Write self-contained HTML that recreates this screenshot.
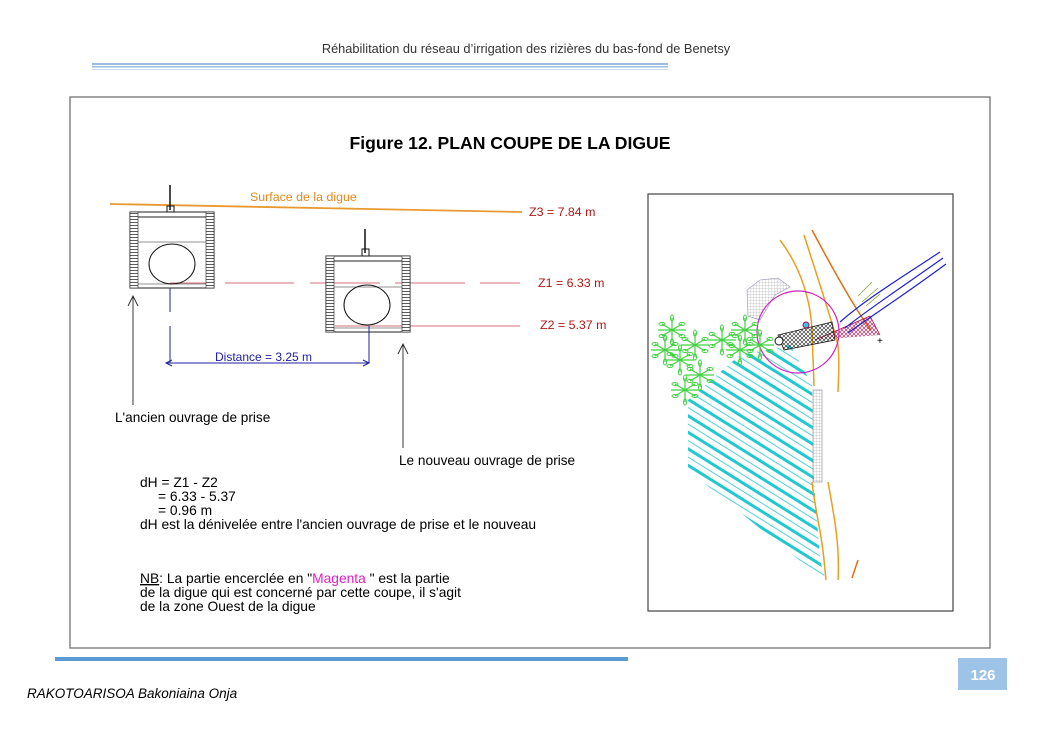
<!DOCTYPE html>
<html><head><meta charset="utf-8"><style>
body{margin:0;width:1053px;height:745px;background:#fff;overflow:hidden;font-family:"Liberation Sans",sans-serif}
</style></head><body>
<svg width="1053" height="745" viewBox="0 0 1053 745" xmlns="http://www.w3.org/2000/svg" font-family="Liberation Sans, sans-serif">
<defs>
<pattern id="lad" width="2" height="3" patternUnits="userSpaceOnUse"><rect width="2" height="3" fill="#fff"/><line x1="0" y1="0.5" x2="2" y2="0.5" stroke="#333" stroke-width="0.8"/></pattern>
<pattern id="grid" width="3" height="3" patternUnits="userSpaceOnUse"><path d="M0 0H3M0 0V3" stroke="#999" stroke-width="0.5"/></pattern>
<pattern id="hatch" width="14" height="14" patternUnits="userSpaceOnUse" patternTransform="rotate(32)"><line x1="0" y1="2" x2="14" y2="2" stroke="#20c8d0" stroke-width="3"/><line x1="0" y1="9" x2="14" y2="9" stroke="#20c8d0" stroke-width="0.8"/></pattern>
<pattern id="cross" width="4" height="4" patternUnits="userSpaceOnUse"><path d="M0 0L4 4M4 0L0 4" stroke="#222" stroke-width="0.6"/></pattern>
<pattern id="crossr" width="4" height="4" patternUnits="userSpaceOnUse"><path d="M0 0L4 4M4 0L0 4" stroke="#b01050" stroke-width="0.6"/></pattern>
<g id="leaf"><path d="M0 0L10 -6M0 0L10 6M0 0L-10 -6M0 0L-10 6M0 0L0 -12M0 0L0 12M-14 0L14 0" stroke="#40d040" stroke-width="1.2" fill="none"/><ellipse cx="10" cy="-6" rx="3" ry="1.5" fill="none" stroke="#40d040"/><ellipse cx="-10" cy="6" rx="3" ry="1.5" fill="none" stroke="#40d040"/><ellipse cx="10" cy="6" rx="3" ry="1.5" fill="none" stroke="#40d040"/><ellipse cx="-10" cy="-6" rx="3" ry="1.5" fill="none" stroke="#40d040"/><ellipse cx="0" cy="-12" rx="1.5" ry="3" fill="none" stroke="#40d040"/><ellipse cx="0" cy="12" rx="1.5" ry="3" fill="none" stroke="#40d040"/></g>
</defs>
<text x="526" y="53" font-size="12.8" text-anchor="middle" fill="#333">Réhabilitation du réseau d’irrigation des rizières du bas-fond de Benetsy</text>
<rect x="92" y="63" width="576" height="2" fill="#9bbde0"/>
<rect x="92" y="66" width="576" height="1.5" fill="#9bbde0"/>
<rect x="92" y="69" width="576" height="1" fill="#c8dcef"/>
<rect x="70" y="97" width="920" height="551" fill="none" stroke="#666" stroke-width="1.2"/>
<text x="510" y="149" font-size="17.6" font-weight="bold" text-anchor="middle">Figure 12. PLAN COUPE DE LA DIGUE</text>
<line x1="110" y1="204" x2="522" y2="212" stroke="#e89a30" stroke-width="1.8"/>
<text x="250" y="201" font-size="12.4" fill="#e08a20">Surface de la digue</text>
<text x="529" y="216" font-size="12.4" fill="#b01818">Z3 = 7.84 m</text>
<text x="538" y="287" font-size="12.4" fill="#b01818">Z1 = 6.33 m</text>
<text x="540" y="329" font-size="12.4" fill="#b01818">Z2 = 5.37 m</text>
<g stroke="#c04050" stroke-width="0.8"><line x1="170" y1="283" x2="213" y2="283"/><line x1="225" y1="283" x2="294" y2="283"/><line x1="310" y1="283" x2="380" y2="283"/><line x1="395" y1="283" x2="465" y2="283"/><line x1="480" y1="283" x2="520" y2="283"/><line x1="335" y1="326" x2="520" y2="326"/></g>
<g>
<rect x="130" y="212" width="84" height="76" fill="none" stroke="#222"/>
<rect x="130" y="212" width="8" height="76" fill="url(#lad)" stroke="#222" stroke-width="0.6"/>
<rect x="206" y="212" width="8" height="76" fill="url(#lad)" stroke="#222" stroke-width="0.6"/>
<line x1="138" y1="217" x2="206" y2="217" stroke="#222"/>
<line x1="138" y1="242" x2="206" y2="242" stroke="#222" stroke-width="0.6"/>
<line x1="138" y1="284" x2="206" y2="284" stroke="#222" stroke-width="0.6"/>
<ellipse cx="172" cy="264" rx="23" ry="20" fill="none" stroke="#111"/>
<line x1="170" y1="185" x2="170" y2="210" stroke="#111" stroke-width="1.5"/>
<rect x="167" y="206" width="7" height="6" fill="none" stroke="#111"/>
</g>
<g>
<rect x="326" y="256" width="84" height="76" fill="none" stroke="#222"/>
<rect x="326" y="256" width="8" height="76" fill="url(#lad)" stroke="#222" stroke-width="0.6"/>
<rect x="402" y="256" width="8" height="76" fill="url(#lad)" stroke="#222" stroke-width="0.6"/>
<line x1="334" y1="261" x2="402" y2="261" stroke="#222"/>
<line x1="334" y1="287" x2="402" y2="287" stroke="#222" stroke-width="0.6"/>
<line x1="334" y1="328" x2="402" y2="328" stroke="#222" stroke-width="0.6"/>
<ellipse cx="367" cy="305" rx="23" ry="20" fill="none" stroke="#111"/>
<line x1="365" y1="229" x2="365" y2="253" stroke="#111" stroke-width="1.5"/>
<rect x="362" y="249" width="7" height="7" fill="none" stroke="#111"/>
</g>
<g stroke="#2020a0" stroke-width="1" fill="none">
<line x1="170" y1="288" x2="170" y2="312"/><line x1="170" y1="326" x2="170" y2="363"/>
<line x1="369" y1="326" x2="369" y2="363"/>
<line x1="166" y1="363" x2="369" y2="363"/>
<path d="M172 360L166 363L172 366M363 360L369 363L363 366"/>
</g>
<text x="215" y="361" font-size="12" fill="#2020a0">Distance = 3.25 m</text>
<g stroke="#222" fill="none" stroke-width="0.9">
<line x1="133" y1="296" x2="133" y2="405"/><path d="M128 306L133 296L138 306"/>
<line x1="403" y1="344" x2="403" y2="448"/><path d="M398 354L403 344L408 354"/>
</g>
<text x="115" y="422" font-size="13.6">L'ancien ouvrage de prise</text>
<text x="399" y="465" font-size="13.6">Le nouveau ouvrage de prise</text>
<g font-size="13.8">
<text x="140" y="487">dH = Z1 - Z2</text>
<text x="158" y="501">= 6.33 - 5.37</text>
<text x="158" y="515">= 0.96 m</text>
<text x="140" y="529">dH est la dénivelée entre l'ancien ouvrage de prise et le nouveau</text>
<text x="140" y="583"><tspan text-decoration="underline">NB</tspan>: La partie encerclée en "<tspan fill="#e020c0">Magenta</tspan> " est la partie</text>
<text x="140" y="597">de la digue qui est concerné par cette coupe, il s'agit</text>
<text x="140" y="611">de la zone Ouest de la digue</text>
</g>
<rect x="648" y="194" width="305" height="417" fill="none" stroke="#444" stroke-width="1.2"/>
<path d="M688 400L740 355L790 345L812 385L814 480L820 560L826 582L688 470Z" fill="url(#hatch)"/>
<rect x="813" y="390" width="9" height="92" fill="url(#grid)" stroke="#888" stroke-width="0.6"/>
<path d="M747 290L748 316L760 320L775 295L790 287L778 278L760 280Z" fill="url(#grid)" stroke="#9090c0" stroke-width="0.6"/>
<g fill="none" stroke="#e8a020" stroke-width="1.5">
<path d="M780 240C795 260 810 290 812 330L814 386"/>
<path d="M804 235C815 270 832 320 838 345C840 365 838 385 838 392"/>
<path d="M812 230C828 260 855 310 871 330" stroke="#e07010"/>
<path d="M812 482C815 510 822 535 824 560L826 580M828 482C834 515 840 545 838 580"/>
<path d="M858 560L852 578" stroke="#e07010"/>
</g>
<path d="M815 340L870 316L880 335" fill="url(#crossr)" stroke="#b01050" stroke-width="0.8"/>
<path d="M778 335L832 322L835 340L784 350Z" fill="url(#cross)" stroke="#222" stroke-width="0.8"/>
<circle cx="779" cy="341" r="4" fill="#fff" stroke="#111"/>
<circle cx="806" cy="325" r="3" fill="#40c0e0" stroke="#b01050"/>
<g fill="none" stroke="#2020d0" stroke-width="1.2"><path d="M840 322C865 300 890 285 940 252"/><path d="M845 328C870 308 895 292 943 258"/><path d="M848 333C874 314 900 298 946 264"/></g>
<g fill="none" stroke="#80a040" stroke-width="0.8"><path d="M858 296L872 282M862 302L878 288M866 306L880 294"/></g>
<circle cx="798" cy="332" r="41" fill="none" stroke="#d020c0" stroke-width="1.2"/>
<use href="#leaf" x="672" y="330"/><use href="#leaf" x="695" y="345"/><use href="#leaf" x="680" y="360"/>
<use href="#leaf" x="700" y="375"/><use href="#leaf" x="685" y="390"/><use href="#leaf" x="722" y="340"/>
<use href="#leaf" x="745" y="330"/><use href="#leaf" x="740" y="350"/><use href="#leaf" x="760" y="345"/><use href="#leaf" x="665" y="350"/>
<text x="877" y="344" font-size="10">+</text>
<rect x="55" y="657" width="573" height="4" fill="#5b9bd5"/>
<rect x="958" y="658" width="49" height="32" fill="#9dc3e6"/>
<text x="983" y="680" font-size="15" fill="#fff" text-anchor="middle" font-weight="bold">126</text>
<text x="27" y="698" font-size="13.5" font-style="italic">RAKOTOARISOA Bakoniaina Onja</text>
</svg>
</body></html>
